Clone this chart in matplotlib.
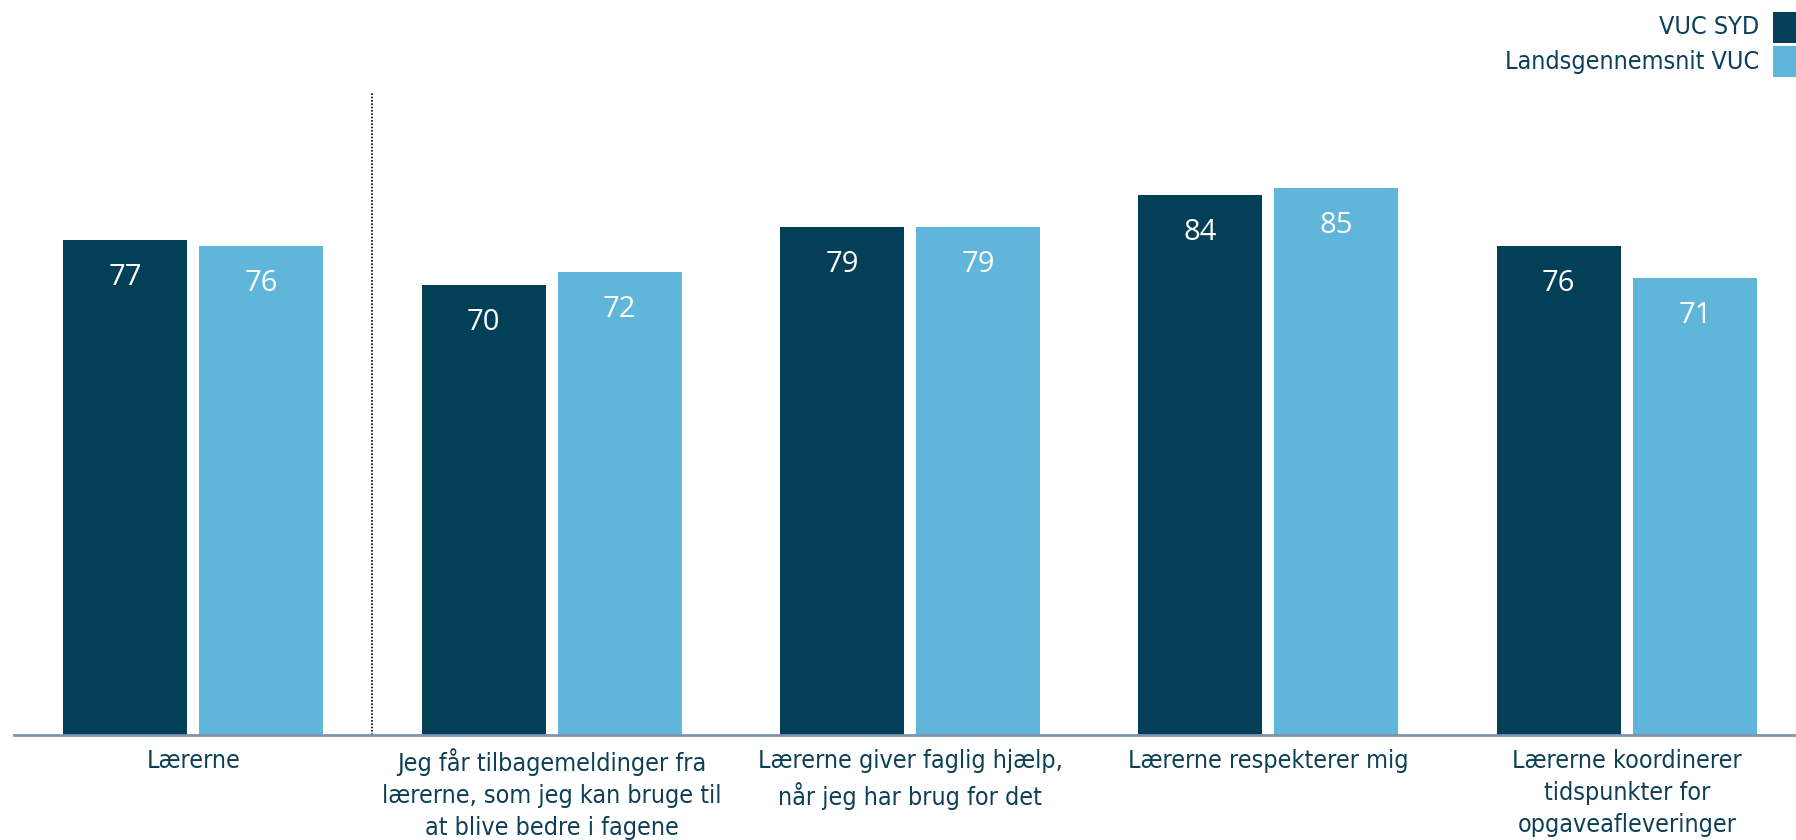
import matplotlib
matplotlib.use("Agg")
import matplotlib.pyplot as plt
from matplotlib.patches import Rectangle
from matplotlib.font_manager import FontProperties
import numpy as np

categories = [
    "Lærerne",
    "Jeg får tilbagemeldinger fra\nlærerne, som jeg kan bruge til\nat blive bedre i fagene",
    "Lærerne giver faglig hjælp,\nnår jeg har brug for det",
    "Lærerne respekterer mig",
    "Lærerne koordinerer\ntidspunkter for\nopgaveafleveringer",
]
series_names = ["VUC SYD", "Landsgennemsnit VUC"]
vuc_syd = [77, 70, 79, 84, 76]
lands = [76, 72, 79, 85, 71]

DARK = "#033F57"
LIGHT = "#5FB5DA"
TEXT = "#0D3F57"
AXIS = "#7F93AE"

W, H = 1796, 840
DPI = 100
fig = plt.figure(figsize=(W / DPI, H / DPI), dpi=DPI)
fig.patch.set_facecolor("white")

left_px, right_px = 14, 1806
bottom_px, top_px = 734.7, 92
ax = fig.add_axes([left_px / W, (H - bottom_px) / H,
                   (right_px - left_px) / W, (bottom_px - top_px) / H])
ax.set_xlim(-0.5, 4.5)
ax.set_ylim(0, 100)

x = np.arange(len(categories))
bw = 0.346
off = 0.19
b1 = ax.bar(x - off, vuc_syd, bw, color=DARK, zorder=2)
b2 = ax.bar(x + off, lands, bw, color=LIGHT, zorder=2)

for bars, vals in ((b1, vuc_syd), (b2, lands)):
    for rect, v in zip(bars, vals):
        ax.annotate(str(v), (rect.get_x() + rect.get_width() / 2, v),
                    xytext=(0, -27), textcoords="offset points",
                    ha="center", va="center", color="white",
                    fontsize=21, family=["Open Sans", "DejaVu Sans"], zorder=3)

ax.axvline(0.5, ymin=0, ymax=1, color="black", linestyle=(0, (1, 1)),
           linewidth=1.2, zorder=1)

for s in ["top", "right", "left"]:
    ax.spines[s].set_visible(False)
ax.spines["bottom"].set_color(AXIS)
ax.spines["bottom"].set_linewidth(2)
ax.set_yticks([])
ax.set_xticks(x)
cat_fp = FontProperties(family="DejaVu Sans", stretch="condensed", size=18)
ax.set_xticklabels(categories, color=TEXT, fontproperties=cat_fp,
                   linespacing=1.42, va="top")
ax.tick_params(axis="x", length=0, pad=10)

# legend (manual, right aligned)
leg_fp = FontProperties(family="DejaVu Sans", stretch="condensed", size=18)
sq_w, sq_h = 23, 31
for i, (name, col) in enumerate(zip(series_names, [DARK, LIGHT])):
    y_top = 12 + i * 34
    fig.add_artist(Rectangle((1773 / W, (H - y_top - sq_h) / H), sq_w / W, sq_h / H,
                             transform=fig.transFigure, color=col, lw=0))
    fig.text(1759 / W, (H - (y_top + sq_h / 2)) / H, name, ha="right", va="center",
             color=TEXT, fontproperties=leg_fp)

fig.savefig("out.png", dpi=DPI, facecolor="white")
